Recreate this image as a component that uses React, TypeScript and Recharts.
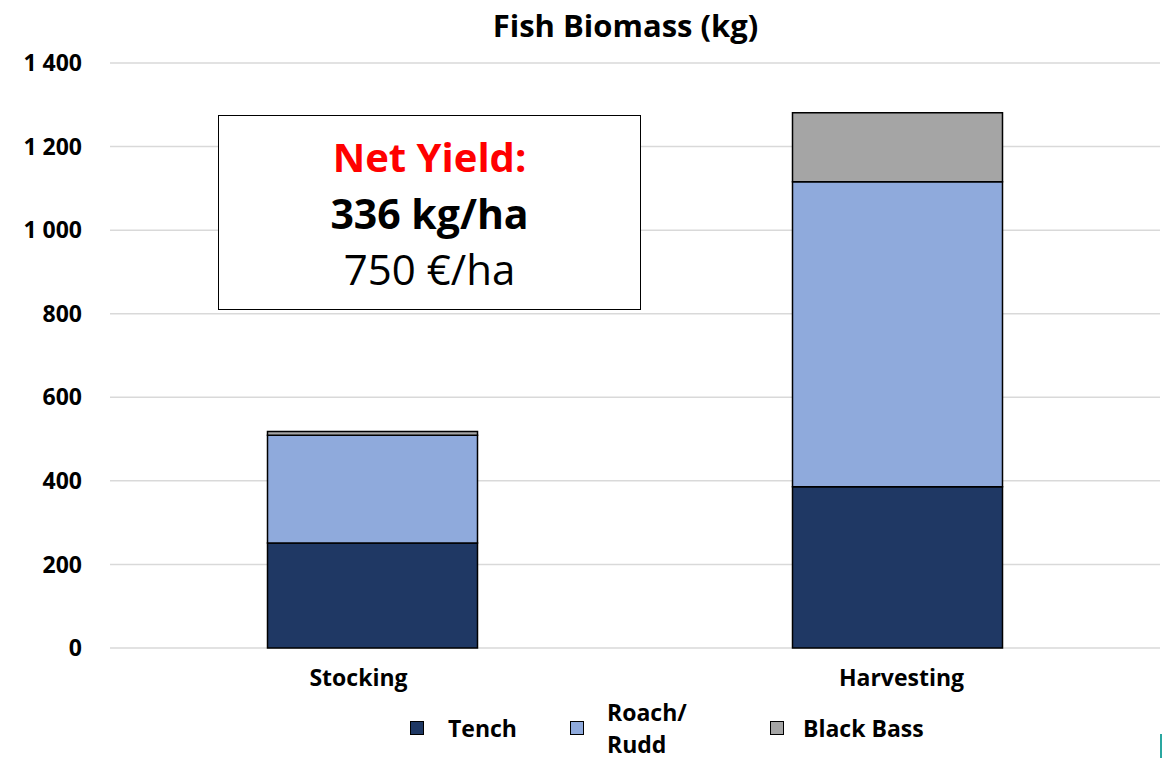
import React from 'react';
import { BarChart, Bar, XAxis, YAxis, CartesianGrid } from 'recharts';

const stages = ['Stocking', 'Harvesting'];
const tench = [251, 386];
const roachRudd = [258, 730];
const blackBass = [9, 165];
const yTicks = [0, 200, 400, 600, 800, 1000, 1200, 1400];

const seriesNames = ['Tench', 'Roach/\nRudd', 'Black Bass'];
const seriesColors = ['#1F3864', '#8FAADC', '#A5A5A5'];

const chartData = stages.map((stage, i) => ({
  stage,
  tench: tench[i],
  roach: roachRudd[i],
  bass: blackBass[i],
}));

const FONT = '"Open Sans", Lato, sans-serif';

const formatTick = (v: number) => String(v).replace(/\B(?=(\d{3})+(?!\d))/g, ' ');

// category labels sit a bit off the bar centres in the original
const labelShift = [-14, 4];

const StageTick = (props: any) => {
  const { x, y, payload, index } = props;
  return (
    <text
      x={x + (labelShift[index] ?? 0)}
      y={y}
      dy={22}
      textAnchor='middle'
      fill='#000'
      fontSize={23}
      fontWeight={700}
      fontFamily={FONT}>
      {payload.value}
    </text>
  );
};

const App: React.FC = () => {
  return (
    <div
      style={{
        position: 'absolute',
        left: 0,
        top: 0,
        width: 1162,
        height: 758,
        background: '#fff',
        fontFamily: FONT,
      }}>
      <div
        style={{
          position: 'absolute',
          left: 0,
          top: 5,
          width: 1251,
          textAlign: 'center',
          fontWeight: 700,
          fontSize: 31,
          lineHeight: '40px',
          color: '#000',
        }}>
        Fish Biomass (kg)
      </div>
      <BarChart
        width={1162}
        height={758}
        data={chartData}
        barCategoryGap='30%'
        margin={{ top: 63, right: 2, bottom: 70, left: 0 }}>
        <CartesianGrid
          vertical={false}
          stroke='#D9D9D9'
          strokeWidth={1.5}
        />
        <XAxis
          dataKey='stage'
          axisLine={false}
          tickLine={false}
          tickSize={0}
          tickMargin={16}
          height={40}
          tick={<StageTick />}
        />
        <YAxis
          domain={[0, 1400]}
          ticks={yTicks}
          tickFormatter={formatTick}
          axisLine={false}
          tickLine={false}
          tickSize={0}
          tickMargin={28}
          width={110}
          tick={{ fill: '#000', fontSize: 23, fontWeight: 700, fontFamily: FONT }}
        />
        <Bar
          dataKey='tench'
          stackId='a'
          fill={seriesColors[0]}
          stroke='#000'
          strokeWidth={1.5}
          isAnimationActive={false}
        />
        <Bar
          dataKey='roach'
          stackId='a'
          fill={seriesColors[1]}
          stroke='#000'
          strokeWidth={1.5}
          isAnimationActive={false}
        />
        <Bar
          dataKey='bass'
          stackId='a'
          fill={seriesColors[2]}
          stroke='#000'
          strokeWidth={1.5}
          isAnimationActive={false}
        />
      </BarChart>

      {/* net yield annotation */}
      <div
        style={{
          position: 'absolute',
          left: 218,
          top: 115,
          width: 423,
          height: 195,
          border: '1.5px solid #000',
          background: '#fff',
          textAlign: 'center',
          lineHeight: '56px',
          paddingTop: 13,
          boxSizing: 'border-box',
        }}>
        <div style={{ color: '#FF0000', fontWeight: 700, fontSize: 40 }}>Net Yield:</div>
        <div style={{ color: '#000', fontWeight: 700, fontSize: 41 }}>336 kg/ha</div>
        <div style={{ color: '#000', fontSize: 42 }}>750 €/ha</div>
      </div>

      {/* legend */}
      {seriesNames.map((name, i) => {
        const lefts = [410, 570, 770];
        const gaps = [24, 23, 19];
        return (
          <div
            key={name}
            style={{
              position: 'absolute',
              left: lefts[i],
              top: i === 1 ? 696 : 712,
              display: 'flex',
              alignItems: 'center',
              fontSize: 23,
              fontWeight: 700,
              lineHeight: '32px',
            }}>
            <span
              style={{
                display: 'inline-block',
                width: 12,
                height: 12,
                background: seriesColors[i],
                border: '1px solid #000',
                marginRight: gaps[i],
              }}
            />
            <span style={{ whiteSpace: 'pre' }}>{name}</span>
          </div>
        );
      })}
      <div
        style={{
          position: 'absolute',
          left: 1160,
          top: 734,
          width: 2,
          height: 24,
          background: '#2AA7A0',
        }}
      />
    </div>
  );
};

export default App;
